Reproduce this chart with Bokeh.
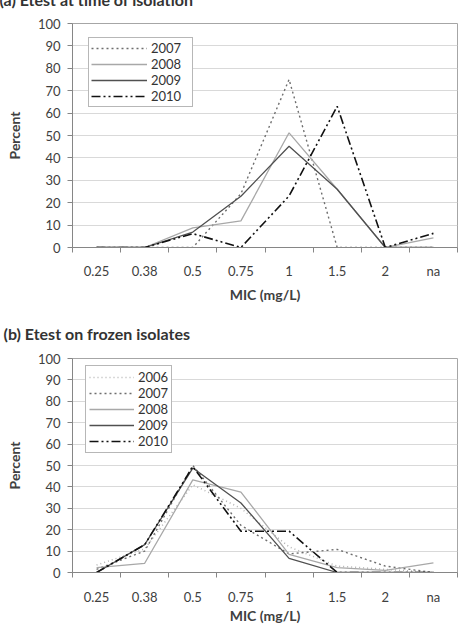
from bokeh.plotting import figure
from bokeh.layouts import column
from bokeh.models import Range1d, FixedTicker, Title
from bokeh.embed import file_html
from bokeh.resources import INLINE

# MIC categories (mg/L) shared by both panels
mic_labels = ["0.25", "0.38", "0.5", "0.75", "1", "1.5", "2", "na"]
percent_ticks = list(range(0, 101, 10))

# (a) Etest at time of isolation: percent of isolates at each MIC
iso_years = ["2007", "2008", "2009", "2010"]
iso_2007 = [0, 0, 0, 24, 75, 0, 0, 0]
iso_2008 = [0, 0, 8.8, 11.9, 51.2, 26, 0, 4.3]
iso_2009 = [0, 0, 6.9, 22.9, 45.2, 26, 0, 0]
iso_2010 = [0, 0, 6.2, 0, 23, 63, 0, 6.3]

# (b) Etest on frozen isolates
frz_years = ["2006", "2007", "2008", "2009", "2010"]
frz_2006 = [3.5, 11, 41, 30, 12, 3, 1.5, 0]
frz_2007 = [1.5, 10, 50, 22, 8.7, 10.8, 3, 0]
frz_2008 = [2.3, 4.3, 43.3, 37.6, 8.5, 2.3, 1, 4.5]
frz_2009 = [0, 13, 48.8, 32.5, 6.6, 0, 0, 0]
frz_2010 = [0, 13, 49.5, 19.3, 19.3, 0, 0, 0]

FONT = "Lato"
TEXT = "#404040"
AXIS = "#868686"

# line style per year: colour, dash, width
styles = {
    "2006": ("#b4b4b4", "1 3", 1.5),
    "2007": ("#6e6e6e", "2 3", 1.4),
    "2008": ("#a8a8a8", "solid", 1.3),
    "2009": ("#505050", "solid", 1.3),
    "2010": ("#111111", "9 3 2 3 2 3", 1.6),
}

n = len(mic_labels)
centers = [i + 0.5 for i in range(n)]
bounds = list(range(n + 1))


def make_panel(title, years, series, height, left, right, top, bottom,
               legend_xy, legend_cfg, title_standoff, tick_standoff, label_standoff):
    p = figure(width=466, height=height, x_range=Range1d(0, n), y_range=Range1d(0, 100),
               output_backend="svg", toolbar_location=None, title=None,
               min_border_left=left, min_border_right=right,
               min_border_top=top, min_border_bottom=bottom)
    p.background_fill_color = "white"
    p.border_fill_color = "white"
    p.outline_line_color = "#a6a6a6"
    p.outline_line_width = 1

    p.title = Title(text=title, align="left", vertical_align="bottom",
                    offset=-left - 1, standoff=title_standoff,
                    text_font=FONT, text_font_style="bold",
                    text_font_size="16px", text_color="#333333")

    p.xgrid.visible = False
    p.ygrid.grid_line_color = "#d9d9d9"
    p.ygrid.grid_line_width = 1

    ya = p.yaxis[0]
    ya.ticker = FixedTicker(ticks=percent_ticks)
    ya.axis_line_color = AXIS
    ya.major_tick_line_color = AXIS
    ya.major_tick_out = 5
    ya.major_tick_in = 0
    ya.minor_tick_line_color = None
    ya.major_label_text_font = FONT
    ya.major_label_text_font_size = "13px"
    ya.major_label_text_color = TEXT
    ya.major_label_standoff = 7
    ya.axis_label = "Percent"
    ya.axis_label_text_font = FONT
    ya.axis_label_text_font_style = "bold"
    ya.axis_label_text_font_size = "14px"
    ya.axis_label_text_color = TEXT
    ya.axis_label_standoff = 12

    xa = p.xaxis[0]
    xa.ticker = FixedTicker(ticks=centers, minor_ticks=bounds)
    xa.major_label_overrides = {c: lab for c, lab in zip(centers, mic_labels)}
    xa.axis_line_color = AXIS
    xa.major_tick_line_color = None
    xa.major_tick_out = 0
    xa.major_tick_in = 0
    xa.minor_tick_line_color = AXIS
    xa.minor_tick_out = 5
    xa.minor_tick_in = 0
    xa.major_label_text_font = FONT
    xa.major_label_text_font_size = "13px"
    xa.major_label_text_color = TEXT
    xa.major_label_standoff = tick_standoff
    xa.axis_label = "MIC (mg/L)"
    xa.axis_label_text_font = FONT
    xa.axis_label_text_font_style = "bold"
    xa.axis_label_text_font_size = "14px"
    xa.axis_label_text_color = TEXT
    xa.axis_label_standoff = label_standoff

    for yr, vals in zip(years, series):
        color, dash, lw = styles[yr]
        p.line(x=centers, y=vals, line_color=color, line_dash=dash,
               line_width=lw, legend_label=yr)

    lg = p.legend[0]
    lg.location = legend_xy
    lg.border_line_color = "#707070"
    lg.border_line_width = 1
    lg.background_fill_color = "white"
    lg.background_fill_alpha = 1
    lg.label_text_font = FONT
    lg.label_text_font_size = "13px"
    lg.label_text_color = "#333333"
    lg.margin = 0
    for k, v in legend_cfg.items():
        setattr(lg, k, v)
    return p


# panel (a) starts above the page top, so only the lower edge of its heading shows
pa = make_panel("(a) Etest at time of isolation", iso_years,
                [iso_2007, iso_2008, iso_2009, iso_2010],
                height=335, left=72, right=1, top=53, bottom=58,
                legend_xy=(16, 140),
                legend_cfg=dict(padding=2, spacing=0, glyph_width=56, glyph_height=12,
                                label_height=12, label_width=39, label_standoff=4),
                title_standoff=29, tick_standoff=10, label_standoff=4)
pa.margin = (-30, 0, 0, 0)

pb = make_panel("(b) Etest on frozen isolates", frz_years,
                [frz_2006, frz_2007, frz_2008, frz_2009, frz_2010],
                height=321, left=68, right=9, top=53, bottom=54,
                legend_xy=(13, 119),
                legend_cfg=dict(padding=3, spacing=-2, glyph_width=45, glyph_height=12,
                                label_height=12, label_width=30, label_standoff=4),
                title_standoff=31, tick_standoff=11, label_standoff=-1)
pb.margin = 0

layout = column(pa, pb, spacing=0)
open("out.html", "w").write(file_html(layout, INLINE))
